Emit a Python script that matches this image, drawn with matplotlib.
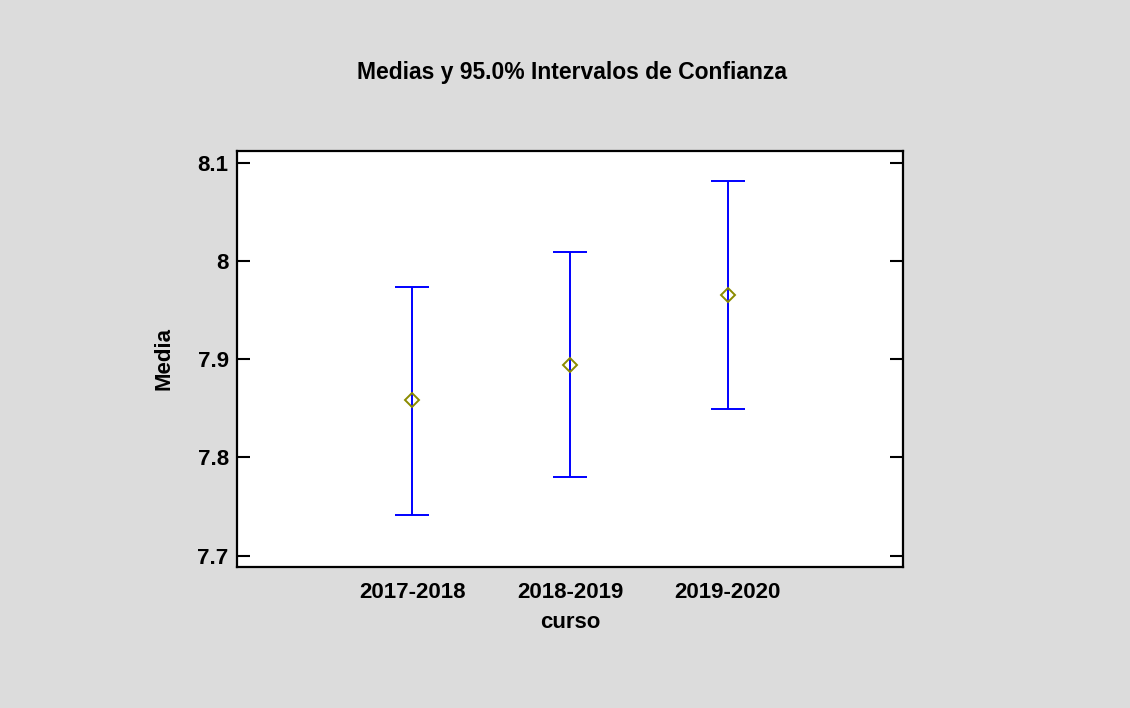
import numpy as np
import matplotlib.pyplot as plt

plt.rcParams['font.family'] = ['Liberation Sans', 'DejaVu Sans']

cursos = ['2017-2018', '2018-2019', '2019-2020']
medias = [7.8584, 7.894, 7.965]
inferior = [7.7414, 7.7797, 7.849]
superior = [7.9737, 8.009, 8.0816]
yticks = [7.7, 7.8, 7.9, 8.0, 8.1]
yticklabels = ['7.7', '7.8', '7.9', '8', '8.1']


def main():
    fig = plt.figure(figsize=(11.3, 7.08), dpi=100, facecolor='#dcdcdc')
    ax = fig.add_axes([0.2097, 0.1992, 0.5894, 0.588])
    ax.set_facecolor('white')

    x = np.arange(1, len(cursos) + 1)
    m = np.array(medias)
    err = [m - np.array(inferior), np.array(superior) - m]
    ax.errorbar(x, m, yerr=err, fmt='none', ecolor='#0000ff',
                elinewidth=1.4, capsize=12, capthick=1.4)
    ax.plot(x, m, linestyle='none', marker='D', markersize=7,
            markerfacecolor='none', markeredgecolor='#8b8b00',
            markeredgewidth=1.4, zorder=3)

    ax.set_xlim(-0.11, 4.11)
    ax.set_ylim(7.6885, 8.1122)
    ax.set_xticks(x)
    ax.set_xticklabels(cursos, fontsize=16, fontweight='bold')
    ax.set_yticks(yticks)
    ax.set_yticklabels(yticklabels, fontsize=16, fontweight='bold')
    ax.tick_params(axis='x', length=0, pad=11)
    ax.tick_params(axis='y', direction='in', length=9.5, width=1.5,
                   left=True, right=True, pad=6)
    for s in ax.spines.values():
        s.set_linewidth(1.6)

    ax.set_xlabel('curso', fontsize=16, fontweight='bold', labelpad=6)
    ax.set_ylabel('Media', fontsize=16, fontweight='bold', labelpad=16.5)
    fig.text(0.506, 0.898, 'Medias y 95.0% Intervalos de Confianza',
             ha='center', va='center', fontsize=16.5, fontweight='bold')

    fig.savefig('out.png', dpi=100, facecolor=fig.get_facecolor())


if __name__ == '__main__':
    main()
